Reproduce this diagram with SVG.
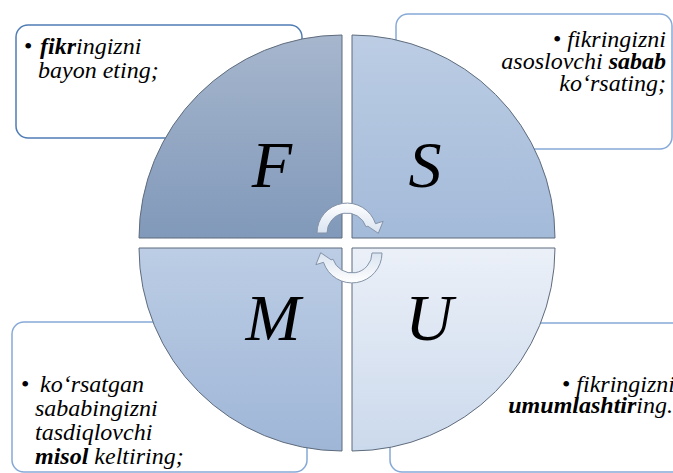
<svg xmlns="http://www.w3.org/2000/svg" width="673" height="473" viewBox="0 0 673 473">
<defs>
<linearGradient id="gF" x1="0" y1="0" x2="0" y2="1"><stop offset="0" stop-color="#a6b6cd"/><stop offset="1" stop-color="#8199ba"/></linearGradient>
<linearGradient id="gS" x1="0" y1="0" x2="0" y2="1"><stop offset="0" stop-color="#bccde4"/><stop offset="1" stop-color="#a3bad9"/></linearGradient>
<linearGradient id="gM" x1="0" y1="0" x2="0" y2="1"><stop offset="0" stop-color="#bccde5"/><stop offset="1" stop-color="#9fb6d7"/></linearGradient>
<linearGradient id="gU" x1="0" y1="0" x2="0" y2="1"><stop offset="0" stop-color="#ebf0f8"/><stop offset="1" stop-color="#cbd9ec"/></linearGradient>
<linearGradient id="gA" x1="0" y1="0" x2="0" y2="1"><stop offset="0" stop-color="#ffffff"/><stop offset="1" stop-color="#d9e3f0"/></linearGradient>
</defs>
<style>
.box{fill:#ffffff;stroke:#86a9d7;stroke-width:1.5}
.box.dark{stroke:#4f7cb4}
.q{stroke:#5e6b7c;stroke-width:1}
.tx{font-family:'Liberation Serif',serif;font-size:24px;font-style:italic;fill:#000000}
.bd{font-weight:bold}
.big{font-family:'Liberation Serif',serif;font-size:66px;font-style:italic;fill:#000000;text-anchor:middle}
.arr{fill:url(#gA);stroke:#8493a8;stroke-width:1}
</style>
<g id="box-F">
<rect class="box dark" x="16" y="25" width="286" height="113" rx="12"/>
</g>
<g id="box-S">
<rect class="box" x="396" y="14" width="276" height="135" rx="12"/>
</g>
<g id="box-M">
<rect class="box" x="12" y="322" width="295" height="150" rx="12"/>
</g>
<g id="box-U">
<rect class="box" x="390" y="323" width="300" height="149" rx="12"/>
</g>
<g id="quad-F">
<path class="q" fill="url(#gF)" d="M342 238 L139 238 A203 203 0 0 1 342 35 Z"/>
<text class="big" x="272" y="187">F</text>
</g>
<g id="quad-S">
<path class="q" fill="url(#gS)" d="M352 238 L352 35 A203 203 0 0 1 555 238 Z"/>
<text class="big" x="425" y="187">S</text>
</g>
<g id="quad-M">
<path class="q" fill="url(#gM)" d="M342 248 L139 248 A203 203 0 0 0 342 451 Z"/>
<text class="big" x="273" y="340">M</text>
</g>
<g id="quad-U">
<path class="q" fill="url(#gU)" d="M352 248 L555 248 A203 203 0 0 1 352 451 Z"/>
<text class="big" x="429" y="340">U</text>
</g>
<g id="connectors">
<path id="arrow-top" class="arr" d="M317 233 A30 30 0 0 1 375.5 223.7 L383.1 221.3 L378.3 233.3 L367.9 226.2 L366 226.8 A20 20 0 0 0 327 233 Z"/>
<path id="arrow-bottom" class="arr" transform="rotate(180 349.5 243)" d="M317 233 A30 30 0 0 1 375.5 223.7 L383.1 221.3 L378.3 233.3 L367.9 226.2 L366 226.8 A20 20 0 0 0 327 233 Z"/>
</g>
<g id="text-F">
<text class="tx" x="24" y="54" style="font-style:normal">•</text>
<text class="tx" x="40" y="54"><tspan class="bd">fikr</tspan>ingizni</text>
<text class="tx" x="38" y="78">bayon eting;</text>
</g>
<g id="text-S">
<text class="tx" x="666" y="47" text-anchor="end"><tspan style="font-style:normal">•</tspan> fikringizni</text>
<text class="tx" x="666" y="69" text-anchor="end">asoslovchi <tspan class="bd">sabab</tspan></text>
<text class="tx" x="666" y="91" text-anchor="end">ko‘rsating;</text>
</g>
<g id="text-M">
<text class="tx" x="21" y="392" style="font-style:normal">•</text>
<text class="tx" x="40" y="392">ko‘rsatgan</text>
<text class="tx" x="35" y="416">sababingizni</text>
<text class="tx" x="35" y="440">tasdiqlovchi</text>
<text class="tx" x="35" y="464"><tspan class="bd">misol</tspan> keltiring;</text>
</g>
<g id="text-U">
<text class="tx" x="675" y="392" text-anchor="end"><tspan style="font-style:normal">•</tspan> fikringizni</text>
<text class="tx" x="673" y="413" text-anchor="end"><tspan class="bd">umumlashtir</tspan>ing.</text>
</g>
</svg>
